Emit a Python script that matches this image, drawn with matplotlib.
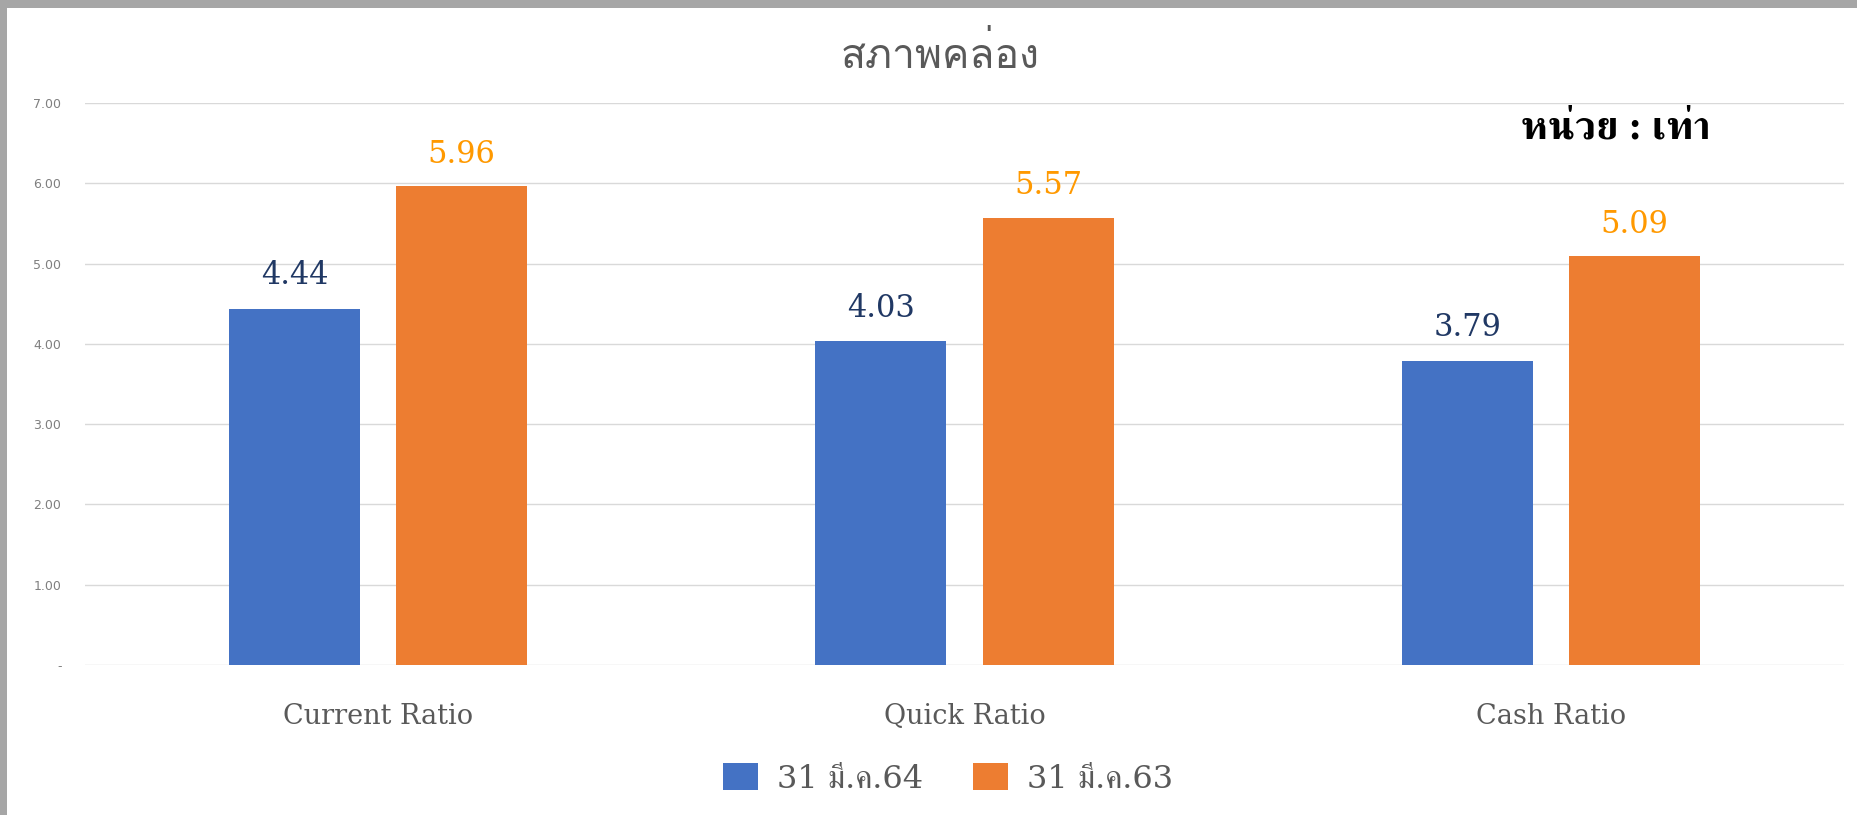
import matplotlib
matplotlib.use("Agg")
import matplotlib.pyplot as plt
from matplotlib import font_manager as fm
from matplotlib.patches import Rectangle
import numpy as np

categories = ["Current Ratio", "Quick Ratio", "Cash Ratio"]
series_names = ["31 มี.ค.64", "31 มี.ค.63"]
values_64 = [4.44, 4.03, 3.79]
values_63 = [5.96, 5.57, 5.09]
yticks = [0, 1, 2, 3, 4, 5, 6, 7]
ytick_labels = ["-", "1.00", "2.00", "3.00", "4.00", "5.00", "6.00", "7.00"]
title = "สภาพคล่อง"
unit_text = "หน่วย : เท่า"


def find_thai_fonts():
    found = []
    try:
        from fontTools.ttLib import TTFont
    except Exception:
        return found
    for f in fm.fontManager.ttflist:
        try:
            t = TTFont(f.fname, fontNumber=0, lazy=True)
            cmap = t.getBestCmap()
            if cmap and 0x0E2A in cmap and 0x0E48 in cmap:
                if f.name not in found:
                    found.append(f.name)
        except Exception:
            pass
    return found


thai_names = find_thai_fonts()


def pick(prefs):
    for p in prefs:
        if p in thai_names:
            return p
    return thai_names[0] if thai_names else "DejaVu Sans"


thai_serif = pick(["Norasi", "Kinnari", "FreeSerif", "Laksaman", "Sarabun", "Taviraj"])
thai_title = pick(["Loma", "Waree", "Umpush", "Garuda"])

plt.rcParams["font.family"] = ["DejaVu Serif", thai_serif, "DejaVu Sans"]

fig = plt.figure(figsize=(18.58, 8.15), dpi=100)
ax = fig.add_axes([85 / 1858, 150 / 815, (1844 - 85) / 1858, (665 - 103) / 815])

x = np.arange(len(categories))
w = 0.2235
off = 0.1425
c_blue = "#4472C4"
c_orange = "#ED7D31"
ax.bar(x - off, values_64, w, color=c_blue, label=series_names[0], zorder=3)
ax.bar(x + off, values_63, w, color=c_orange, label=series_names[1], zorder=3)

for xi, v in zip(x - off, values_64):
    ax.annotate(f"{v:.2f}", (xi, v), xytext=(0, 24), textcoords="offset points",
                ha="center", va="center", fontsize=22, color="#203864",
                family="DejaVu Serif")
for xi, v in zip(x + off, values_63):
    ax.annotate(f"{v:.2f}", (xi, v), xytext=(0, 23), textcoords="offset points",
                ha="center", va="center", fontsize=22, color="#FF9900",
                family="DejaVu Serif")

ax.set_xlim(-0.5, 2.5)
ax.set_ylim(0, 7)
ax.set_yticks(yticks)
ax.set_yticklabels(ytick_labels, fontsize=9, color="#7F7F7F", family="DejaVu Sans")
ax.set_xticks(x)
ax.set_xticklabels(categories, fontsize=19.5, color="#595959", family="DejaVu Serif")
ax.tick_params(axis="y", length=0, pad=17)
ax.tick_params(axis="x", length=0, pad=27)
ax.grid(axis="y", color="#D9D9D9", linewidth=1, zorder=0)
for s in ax.spines.values():
    s.set_visible(False)

fig.text(940 / 1858, 1 - 55 / 815, title, ha="center", va="center",
         fontsize=29.5, color="#595959", family=[thai_title, "DejaVu Sans"])
fig.text(1616 / 1858, 1 - 129 / 815, unit_text, ha="center", va="center",
         fontsize=29, color="black", fontweight="bold",
         family=[thai_serif, "DejaVu Serif"])

fig.legend(loc="center", bbox_to_anchor=(948 / 1858, 1 - 779 / 815), ncol=2,
           frameon=False, fontsize=23, handlelength=1.1, handleheight=0.9,
           handletextpad=0.6, columnspacing=1.55, labelcolor="#595959")

# gray frame on top and left
fig.patches.append(Rectangle((0, 1 - 8 / 815), 1, 8 / 815, transform=fig.transFigure,
                             facecolor="#A6A6A6", edgecolor="none", zorder=10))
fig.patches.append(Rectangle((0, 0), 7 / 1858, 1, transform=fig.transFigure,
                             facecolor="#A6A6A6", edgecolor="none", zorder=10))

fig.savefig("out.png", dpi=100)
